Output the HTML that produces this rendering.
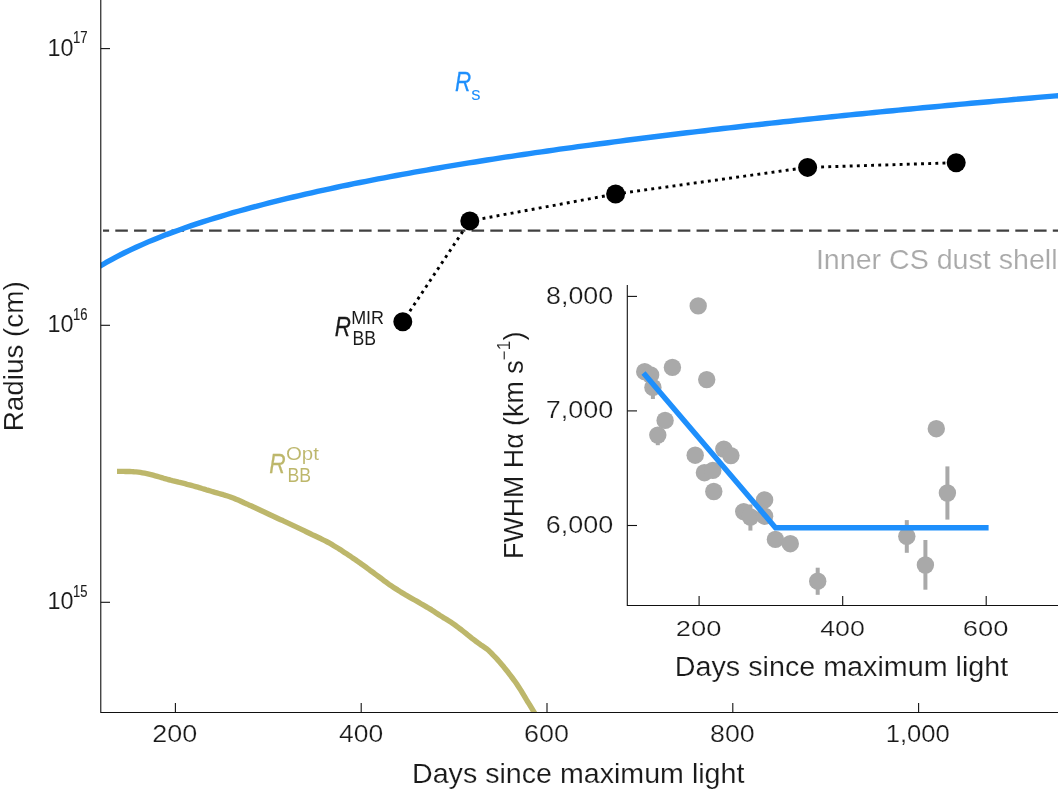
<!DOCTYPE html>
<html lang="en">
<head>
<meta charset="utf-8">
<title>Radius evolution</title>
<style>
html,body{margin:0;padding:0;background:#fff;}
body{width:1058px;height:790px;overflow:hidden;}
svg{display:block;}
text{font-family:"Liberation Sans", Arial, Helvetica, sans-serif;fill:#1a1a1a;stroke:#fff;stroke-width:0;vector-effect:non-scaling-stroke;}
.ax{stroke:#111;stroke-width:1.1;fill:none;}
</style>
</head>
<body>
<svg width="1058" height="790" viewBox="0 0 1058 790">
<rect width="1058" height="790" fill="#fff"/>
<defs><clipPath id="mainclip"><rect x="100.78" y="0" width="957.22" height="712.45"/></clipPath></defs>

<line x1="103" y1="230.7" x2="1058" y2="230.7" stroke="#404040" stroke-width="2.2" stroke-dasharray="12.55 6.2" stroke-dashoffset="6.45"/>
<g clip-path="url(#mainclip)"><path d="M117.0,471.4 L119.1,471.4 L121.3,471.4 L123.4,471.4 L125.5,471.5 L127.6,471.5 L129.8,471.5 L131.9,471.6 L134.0,471.8 L136.1,471.9 L138.3,472.1 L140.4,472.4 L142.5,472.8 L144.6,473.2 L146.8,473.6 L148.9,474.1 L151.0,474.6 L153.1,475.2 L155.3,475.8 L157.4,476.4 L159.5,477.0 L161.6,477.6 L163.8,478.3 L165.9,478.9 L168.0,479.5 L170.1,480.0 L172.3,480.6 L174.4,481.1 L176.5,481.6 L178.6,482.2 L180.8,482.7 L182.9,483.2 L185.0,483.7 L187.1,484.3 L189.3,484.8 L191.4,485.4 L193.5,486.0 L195.6,486.6 L197.8,487.2 L199.9,487.8 L202.0,488.5 L204.2,489.1 L206.3,489.8 L208.4,490.4 L210.5,491.0 L212.7,491.7 L214.8,492.3 L216.9,492.9 L219.0,493.5 L221.2,494.1 L223.3,494.7 L225.4,495.4 L227.5,496.0 L229.7,496.7 L231.8,497.5 L233.9,498.3 L236.0,499.2 L238.2,500.1 L240.3,501.0 L242.4,502.0 L244.5,503.0 L246.7,503.9 L248.8,504.9 L250.9,505.8 L253.0,506.8 L255.2,507.8 L257.3,508.8 L259.4,509.8 L261.5,510.8 L263.7,511.8 L265.8,512.8 L267.9,513.8 L270.0,514.8 L272.2,515.8 L274.3,516.7 L276.4,517.7 L278.5,518.7 L280.7,519.7 L282.8,520.6 L284.9,521.6 L287.1,522.6 L289.2,523.6 L291.3,524.6 L293.4,525.6 L295.6,526.6 L297.7,527.6 L299.8,528.6 L301.9,529.6 L304.1,530.7 L306.2,531.7 L308.3,532.7 L310.4,533.7 L312.6,534.8 L314.7,535.8 L316.8,536.8 L318.9,537.8 L321.1,538.8 L323.2,539.9 L325.3,540.9 L327.4,542.0 L329.6,543.2 L331.7,544.4 L333.8,545.7 L335.9,547.0 L338.1,548.3 L340.2,549.6 L342.3,551.0 L344.4,552.4 L346.6,553.8 L348.7,555.2 L350.8,556.6 L352.9,558.1 L355.1,559.5 L357.2,561.0 L359.3,562.4 L361.4,564.0 L363.6,565.5 L365.7,567.0 L367.8,568.6 L369.9,570.2 L372.1,571.8 L374.2,573.3 L376.3,574.9 L378.5,576.5 L380.6,578.0 L382.7,579.6 L384.8,581.3 L387.0,582.8 L389.1,584.4 L391.2,585.8 L393.3,587.2 L395.5,588.6 L397.6,589.9 L399.7,591.3 L401.8,592.6 L404.0,593.9 L406.1,595.2 L408.2,596.4 L410.3,597.6 L412.5,598.8 L414.6,600.0 L416.7,601.2 L418.8,602.4 L421.0,603.7 L423.1,604.9 L425.2,606.1 L427.3,607.4 L429.5,608.6 L431.6,609.9 L433.7,611.3 L435.8,612.7 L438.0,614.1 L440.1,615.5 L442.2,616.8 L444.3,618.2 L446.5,619.4 L448.6,620.7 L450.7,622.1 L452.8,623.5 L455.0,625.0 L457.1,626.6 L459.2,628.2 L461.4,629.8 L463.5,631.5 L465.6,633.2 L467.7,634.9 L469.9,636.6 L472.0,638.3 L474.1,639.9 L476.2,641.5 L478.4,643.1 L480.5,644.7 L482.6,646.1 L484.7,647.5 L486.9,649.0 L489.0,650.8 L491.1,652.9 L493.2,655.1 L495.4,657.3 L497.5,659.6 L499.6,662.0 L501.7,664.5 L503.9,667.1 L506.0,669.7 L508.1,672.3 L510.2,675.1 L512.4,678.0 L514.5,680.8 L516.6,683.8 L518.7,687.0 L520.9,690.4 L523.0,693.9 L525.1,697.4 L527.2,701.0 L529.4,704.4 L531.5,707.9 L533.6,711.4 L535.7,715.0 L537.9,718.7 L540.0,722.5" fill="none" stroke="#bdb76b" stroke-width="5.4" stroke-linejoin="round"/>
<path d="M99.8,266.3 L105.8,262.7 L111.9,259.3 L117.9,256.1 L124.0,253.0 L130.0,250.1 L136.1,247.3 L142.1,244.6 L148.2,241.9 L154.2,239.4 L160.3,237.0 L166.3,234.6 L172.4,232.4 L178.5,230.2 L184.5,228.0 L190.6,225.9 L196.6,223.9 L202.7,221.9 L208.7,220.0 L214.8,218.1 L220.8,216.3 L226.9,214.5 L232.9,212.7 L239.0,211.0 L245.0,209.3 L251.1,207.7 L257.1,206.1 L263.2,204.5 L269.2,202.9 L275.3,201.4 L281.3,199.9 L287.4,198.4 L293.4,197.0 L299.5,195.6 L305.5,194.2 L311.6,192.8 L317.6,191.4 L323.7,190.1 L329.7,188.8 L335.8,187.5 L341.8,186.2 L347.9,185.0 L354.0,183.7 L360.0,182.5 L366.1,181.3 L372.1,180.1 L378.2,178.9 L384.2,177.8 L390.3,176.6 L396.3,175.5 L402.4,174.4 L408.4,173.3 L414.5,172.2 L420.5,171.1 L426.6,170.1 L432.6,169.0 L438.7,168.0 L444.7,166.9 L450.8,165.9 L456.8,164.9 L462.9,163.9 L468.9,162.9 L475.0,162.0 L481.0,161.0 L487.1,160.0 L493.1,159.1 L499.2,158.1 L505.2,157.2 L511.3,156.3 L517.3,155.4 L523.4,154.5 L529.5,153.6 L535.5,152.7 L541.6,151.8 L547.6,151.0 L553.7,150.1 L559.7,149.2 L565.8,148.4 L571.8,147.6 L577.9,146.7 L583.9,145.9 L590.0,145.1 L596.0,144.3 L602.1,143.5 L608.1,142.7 L614.2,141.9 L620.2,141.1 L626.3,140.3 L632.3,139.5 L638.4,138.8 L644.4,138.0 L650.5,137.2 L656.5,136.5 L662.6,135.7 L668.6,135.0 L674.7,134.3 L680.7,133.5 L686.8,132.8 L692.8,132.1 L698.9,131.4 L704.9,130.7 L711.0,129.9 L717.1,129.2 L723.1,128.5 L729.2,127.9 L735.2,127.2 L741.3,126.5 L747.3,125.8 L753.4,125.1 L759.4,124.5 L765.5,123.8 L771.5,123.1 L777.6,122.5 L783.6,121.8 L789.7,121.2 L795.7,120.5 L801.8,119.9 L807.8,119.3 L813.9,118.6 L819.9,118.0 L826.0,117.4 L832.0,116.7 L838.1,116.1 L844.1,115.5 L850.2,114.9 L856.2,114.3 L862.3,113.7 L868.3,113.1 L874.4,112.5 L880.4,111.9 L886.5,111.3 L892.6,110.7 L898.6,110.1 L904.7,109.5 L910.7,109.0 L916.8,108.4 L922.8,107.8 L928.9,107.2 L934.9,106.7 L941.0,106.1 L947.0,105.5 L953.1,105.0 L959.1,104.4 L965.2,103.9 L971.2,103.3 L977.3,102.8 L983.3,102.2 L989.4,101.7 L995.4,101.1 L1001.5,100.6 L1007.5,100.1 L1013.6,99.5 L1019.6,99.0 L1025.7,98.5 L1031.7,98.0 L1037.8,97.4 L1043.8,96.9 L1049.9,96.4 L1055.9,95.9 L1062.0,95.4" fill="none" stroke="#1e8ffc" stroke-width="5.4" stroke-linejoin="round"/></g>
<path d="M402.8,321.8 L469.8,220.9 L615.6,194.0 L807.6,167.4 L956.2,162.7" fill="none" stroke="#000" stroke-width="2.9" stroke-dasharray="2.9 4.24" stroke-dashoffset="1.6"/>
<circle cx="402.8" cy="321.8" r="9.5" fill="#000"/>
<circle cx="469.8" cy="220.9" r="9.5" fill="#000"/>
<circle cx="615.6" cy="194.0" r="9.5" fill="#000"/>
<circle cx="807.6" cy="167.4" r="9.5" fill="#000"/>
<circle cx="956.2" cy="162.7" r="9.5" fill="#000"/>
<path class="ax" d="M100.78,0 V712.45 H1058"/>
<line class="ax" x1="100.78" x2="110" y1="48.6" y2="48.6"/>
<text transform="translate(47.43,55.60) scale(1.0002,1)" style="font-size:23.43px;stroke-width:0.09px;">10</text>
<text transform="translate(72.95,42.90) scale(0.8453,1)" style="font-size:15.57px;stroke:#1a1a1a;stroke-width:0.12px;">17</text>
<line class="ax" x1="100.78" x2="110" y1="325.3" y2="325.3"/>
<text transform="translate(47.43,332.30) scale(1.0002,1)" style="font-size:23.43px;stroke-width:0.09px;">10</text>
<text transform="translate(72.96,319.60) scale(0.8368,1)" style="font-size:15.57px;stroke:#1a1a1a;stroke-width:0.13px;">16</text>
<line class="ax" x1="100.78" x2="110" y1="602.3" y2="602.3"/>
<text transform="translate(47.43,609.30) scale(1.0002,1)" style="font-size:23.43px;stroke-width:0.09px;">10</text>
<text transform="translate(72.96,596.60) scale(0.8368,1)" style="font-size:15.57px;stroke:#1a1a1a;stroke-width:0.13px;">15</text>
<line class="ax" x1="175.4" x2="175.4" y1="703" y2="712.45"/>
<text transform="translate(152.35,742.00) scale(1.1650,1)" style="font-size:23.14px;stroke-width:0.26px;">200</text>
<line class="ax" x1="361.2" x2="361.2" y1="703" y2="712.45"/>
<text transform="translate(338.97,742.00) scale(1.1433,1)" style="font-size:23.14px;stroke-width:0.24px;">400</text>
<line class="ax" x1="547.0" x2="547.0" y1="703" y2="712.45"/>
<text transform="translate(523.95,742.00) scale(1.1650,1)" style="font-size:23.14px;stroke-width:0.26px;">600</text>
<line class="ax" x1="732.8" x2="732.8" y1="703" y2="712.45"/>
<text transform="translate(710.03,742.00) scale(1.1577,1)" style="font-size:23.14px;stroke-width:0.25px;">800</text>
<line class="ax" x1="918.6" x2="918.6" y1="703" y2="712.45"/>
<text transform="translate(885.65,742.00) scale(1.1075,1)" style="font-size:23.14px;stroke-width:0.20px;">1,000</text>
<text transform="translate(412.01,783.00) scale(1.0505,1)" style="font-size:27.25px;stroke-width:0.15px;">Days since maximum light</text>
<text transform="translate(22.60,431.33) rotate(-90) scale(1.0275,1)" style="font-size:27.10px;stroke-width:0.12px;">Radius (cm)</text>
<text transform="translate(454.93,91.00) scale(0.8059,1)" style="font-size:27.83px;stroke:#1e8ffc;stroke-width:0.27px;font-style:italic;fill:#1e8ffc;">R</text><text transform="translate(471.24,99.90) scale(0.9860,1)" style="font-size:18.87px;fill:#1e8ffc;">s</text>
<text transform="translate(334.63,336.00) scale(0.8144,1)" style="font-size:27.54px;stroke:#1a1a1a;stroke-width:0.26px;font-style:italic;">R</text><text transform="translate(351.16,323.70) scale(0.9308,1)" style="font-size:19.28px;">MIR</text><text transform="translate(352.49,344.80) scale(0.9165,1)" style="font-size:19.28px;">BB</text>
<text transform="translate(269.32,472.80) scale(0.8210,1)" style="font-size:27.68px;stroke:#bdb76b;stroke-width:0.25px;font-style:italic;fill:#bdb76b;">R</text><text transform="translate(285.88,460.30) scale(1.0762,1)" style="font-size:19.00px;stroke-width:0.07px;fill:#bdb76b;">Opt</text><text transform="translate(287.39,481.80) scale(0.9097,1)" style="font-size:19.42px;fill:#bdb76b;">BB</text>
<text transform="translate(815.93,268.80) scale(1.0610,1)" style="font-size:26.96px;stroke-width:0.16px;fill:#a9a9a9;">Inner CS dust shell</text>
<path class="ax" d="M627.3,285 V605.45 H1058"/>
<line class="ax" x1="627.3" x2="637" y1="296.4" y2="296.4"/>
<text transform="translate(546.03,303.50) scale(1.1447,1)" style="font-size:23.43px;stroke-width:0.24px;">8,000</text>
<line class="ax" x1="627.3" x2="637" y1="410.9" y2="410.9"/>
<text transform="translate(545.75,418.00) scale(1.1494,1)" style="font-size:23.43px;stroke-width:0.25px;">7,000</text>
<line class="ax" x1="627.3" x2="637" y1="525.5" y2="525.5"/>
<text transform="translate(545.75,532.60) scale(1.1494,1)" style="font-size:23.43px;stroke-width:0.25px;">6,000</text>
<line class="ax" x1="699.1" x2="699.1" y1="596" y2="605.45"/>
<text transform="translate(675.73,635.60) scale(1.1962,1)" style="font-size:22.86px;stroke-width:0.26px;">200</text>
<line class="ax" x1="842.7" x2="842.7" y1="596" y2="605.45"/>
<text transform="translate(820.16,635.60) scale(1.1739,1)" style="font-size:22.86px;stroke-width:0.26px;">400</text>
<line class="ax" x1="986.2" x2="986.2" y1="596" y2="605.45"/>
<text transform="translate(962.83,635.60) scale(1.1962,1)" style="font-size:22.86px;stroke-width:0.26px;">600</text>
<text transform="translate(674.80,676.10) scale(1.0656,1)" style="font-size:26.96px;stroke-width:0.17px;">Days since maximum light</text>
<text transform="translate(523.20,558.94) rotate(-90) scale(0.9732,1)" style="font-size:27.54px;stroke-width:0.09px;">FWHM Hα (km s<tspan style="font-size:0.65em" dy="-0.75em">−1</tspan><tspan dy="0.4875em">)</tspan></text>
<line x1="652.9" x2="652.9" y1="387.4" y2="399.0" stroke="#a9a9a9" stroke-width="4"/>
<line x1="657.8" x2="657.8" y1="435.1" y2="445.2" stroke="#a9a9a9" stroke-width="4"/>
<line x1="750.4" x2="750.4" y1="504.5" y2="530.6" stroke="#a9a9a9" stroke-width="4"/>
<line x1="817.7" x2="817.7" y1="567.7" y2="594.8" stroke="#a9a9a9" stroke-width="4"/>
<line x1="906.8" x2="906.8" y1="520.1" y2="552.8" stroke="#a9a9a9" stroke-width="4"/>
<line x1="925.4" x2="925.4" y1="540" y2="589.7" stroke="#a9a9a9" stroke-width="4"/>
<line x1="947.4" x2="947.4" y1="466.4" y2="519.6" stroke="#a9a9a9" stroke-width="4"/>
<circle cx="644.7" cy="371.7" r="8.7" fill="#a9a9a9"/>
<circle cx="650.6" cy="375" r="8.7" fill="#a9a9a9"/>
<circle cx="652.9" cy="387.4" r="8.7" fill="#a9a9a9"/>
<circle cx="672.4" cy="367.4" r="8.7" fill="#a9a9a9"/>
<circle cx="698.2" cy="305.9" r="8.7" fill="#a9a9a9"/>
<circle cx="706.7" cy="379.6" r="8.7" fill="#a9a9a9"/>
<circle cx="665.1" cy="420.4" r="8.7" fill="#a9a9a9"/>
<circle cx="657.8" cy="435.1" r="8.7" fill="#a9a9a9"/>
<circle cx="695.2" cy="455.2" r="8.7" fill="#a9a9a9"/>
<circle cx="723.8" cy="449.1" r="8.7" fill="#a9a9a9"/>
<circle cx="730.9" cy="455.6" r="8.7" fill="#a9a9a9"/>
<circle cx="704.4" cy="472.7" r="8.7" fill="#a9a9a9"/>
<circle cx="712.8" cy="470.4" r="8.7" fill="#a9a9a9"/>
<circle cx="713.8" cy="491.5" r="8.7" fill="#a9a9a9"/>
<circle cx="764.6" cy="499.9" r="8.7" fill="#a9a9a9"/>
<circle cx="743.7" cy="511.6" r="8.7" fill="#a9a9a9"/>
<circle cx="750.4" cy="517" r="8.7" fill="#a9a9a9"/>
<circle cx="764.6" cy="516.2" r="8.7" fill="#a9a9a9"/>
<circle cx="775.4" cy="539.4" r="8.7" fill="#a9a9a9"/>
<circle cx="790.3" cy="543.7" r="8.7" fill="#a9a9a9"/>
<circle cx="817.7" cy="581.2" r="8.7" fill="#a9a9a9"/>
<circle cx="906.8" cy="536.3" r="8.7" fill="#a9a9a9"/>
<circle cx="925.4" cy="565" r="8.7" fill="#a9a9a9"/>
<circle cx="936.3" cy="428.7" r="8.7" fill="#a9a9a9"/>
<circle cx="947.4" cy="493" r="8.7" fill="#a9a9a9"/>
<path d="M643.5,373.1 L775.5,527.7 H988.6" fill="none" stroke="#1e8ffc" stroke-width="5.4" stroke-linejoin="miter"/>
</svg>
</body>
</html>
